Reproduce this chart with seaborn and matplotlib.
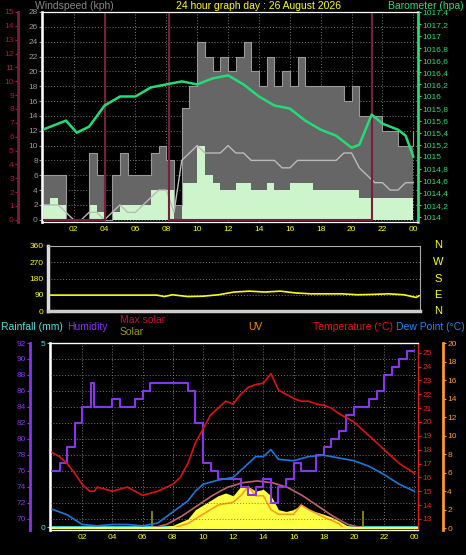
import numpy as np
import pandas as pd
import matplotlib
matplotlib.use("Agg")
import matplotlib.pyplot as plt
import seaborn as sns

sns.set_style("dark")
plt.rcParams['font.family'] = ['Liberation Sans', 'DejaVu Sans']

# ---------------- data ----------------
hours_half = [0, .5, 1, 1.5, 2, 2.5, 3, 3.5, 4, 4.5, 5, 5.5, 6, 6.5, 7, 7.5, 8, 8.5, 9, 9.5, 10, 10.5,
              11, 11.5, 12, 12.5, 13, 13.5, 14, 14.5, 15, 15.5, 16, 16.5, 17, 17.5, 18, 18.5, 19, 19.5,
              20, 20.5, 21, 21.5, 22, 22.5, 23, 23.5, 24]
gust = [6, 6, 6, 0, 0, 0, 9, 6, 0, 6, 9, 6, 6, 6, 9, 10, 8, 2, 15, 18, 24, 22, 20, 22, 20, 22, 24,
        20, 18, 22, 18, 20, 18, 22, 18, 18, 18, 18, 18, 16, 18, 14, 14, 14, 12, 12, 10, 10, 12]
wind_speed = [2, 3, 2, 0, 0, 0, 2, 1, 0, 1, 2, 2, 2, 2, 4, 4, 4, 0, 5, 5, 10, 6, 5, 4, 4, 5, 5, 4,
              4, 5, 4, 4, 5, 5, 5, 4, 4, 4, 4, 4, 4, 3, 3, 3, 3, 3, 3, 3, 4]
wind_avg = [2, 2, 2, 1, 0, 0, 1, 1, 0, 1, 2, 1, 1, 2, 3, 4, 4, 1, 8, 9, 10, 9, 9, 9, 10, 9, 9, 8,
            8, 8, 8, 7, 7, 8, 8, 8, 8, 8, 8, 9, 9, 7, 6, 5, 5, 4, 4, 5, 5]

baro_t = [0, 1, 1.5, 2.2, 3, 4, 5, 6, 7, 8, 9, 10, 11, 12, 13, 14, 15, 16, 17, 18, 19, 20, 20.5,
          21.3, 22, 23, 23.5, 24]
baro = [1015.45, 1015.55, 1015.6, 1015.4, 1015.5, 1015.85, 1016.0, 1016.0, 1016.15, 1016.2,
        1016.25, 1016.2, 1016.3, 1016.35, 1016.2, 1016.0, 1015.85, 1015.8, 1015.6, 1015.45,
        1015.35, 1015.15, 1015.2, 1015.7, 1015.55, 1015.45, 1015.35, 1015.0]

day_t = [0, 4, 8.15, 21.3, 24]
day_v = [0, 15, 0, 15, 15]

dir_t = [0, 7, 7.5, 8, 9, 10, 11, 12, 13, 14, 15, 16, 17, 18, 19, 20, 21, 22, 23, 23.8, 24]
dir_v = [88, 88, 80, 90, 80, 82, 90, 105, 110, 105, 110, 100, 95, 95, 95, 90, 92, 95, 90, 75, 85]

hum_t = [0, .5, 1, 1.5, 2, 2.6, 2.8, 4, 4.5, 5.5, 6, 6.5, 8.8, 9, 9.5, 10, 10.5, 11, 12.5, 13,
         13.5, 14, 14.5, 15, 15.5, 16, 16.5, 17, 17.5, 18, 18.5, 19, 19.5, 20, 21, 21.5, 22, 22.5,
         23, 23.5, 24]
hum = [76, 77, 79, 82, 84, 87, 84, 85, 84, 85, 86, 87, 87, 86, 82, 77, 76, 75, 74, 73, 74, 75,
       72, 74, 75, 77, 76, 76, 78, 79, 80, 81, 83, 84, 85, 86, 88, 89, 90, 91, 91]
temp_t = [0, .5, 1, 1.5, 2, 2.5, 2.8, 3, 4, 5, 6, 7, 8, 8.5, 9, 9.5, 10, 10.5, 11, 11.5, 12, 12.5,
          13, 13.5, 14, 14.5, 15, 15.5, 16, 16.5, 17, 17.5, 18, 18.5, 19, 20, 21, 22, 23, 24]
temp = [17.8, 17.5, 17, 16.3, 15.5, 15, 15, 15.3, 15, 15.3, 14.7, 15, 15.5, 16, 17, 18.5, 19.5,
        20.5, 21, 21.5, 21.3, 22, 22.5, 22.7, 22.8, 23.5, 22.3, 22, 21.7, 21.5, 21.5, 21.3, 21.2,
        21, 20.6, 20, 19, 18, 17, 16.3]
dew_t = [0, 1, 2, 3, 4, 5, 6, 7, 8, 9, 9.5, 10, 11, 12, 12.5, 13, 13.5, 14, 14.5, 15, 16, 17, 18,
         19, 20, 21, 22, 23, 24]
dew = [13.7, 13.3, 12.6, 12.5, 12.6, 12.6, 12.5, 12.7, 13.5, 14.3, 15, 15.5, 15.8, 16, 16.5, 17,
       17.5, 17.5, 18, 17.3, 17.2, 17.5, 17.6, 17.4, 17.2, 16.8, 16.2, 15.5, 15]
solar_t = [6.6, 7, 8, 9, 9.5, 10, 10.5, 11, 11.5, 12, 12.5, 13, 13.5, 14, 14.5, 15, 15.5, 16, 16.5,
           17, 18, 18.5, 19, 19.5, 20]
solar = [0, 0.1, 0.3, 1, 2, 2.5, 3, 3.5, 3.8, 3.5, 4.5, 4.5, 4, 4.2, 3.5, 2, 1.8, 2, 2.5, 2, 1.5,
         1.2, 0.8, 0.3, 0.1]
maxsol_t = [6.6, 7.6, 8.6, 9.6, 10.6, 11.6, 12.6, 13.6, 14.6, 15.6, 16.6, 17.6, 18.6, 19.6, 20.6]
maxsol = [0, 0.4, 1.3, 2.4, 3.5, 4.4, 4.9, 5.1, 4.9, 4.4, 3.5, 2.4, 1.3, 0.4, 0]
uv_t = [8, 9, 10, 11, 12, 12.5, 13, 13.5, 14, 14.5, 15, 16, 16.5, 17, 18, 19, 19.3]
uv = [0, 0.5, 1.5, 2.5, 2.8, 3.5, 4.5, 3.5, 3.5, 2, 1.5, 1.5, 2.5, 2, 1.2, 0.5, 0]

# ---------------- layout ----------------
W, H = 466, 555
fig = plt.figure(figsize=(W / 100, H / 100), dpi=100, facecolor='black')


def rect(l, t, r, b):
    return [l / W, 1 - b / H, (r - l) / W, (b - t) / H]


GRID = dict(color='#777777', linestyle=(0, (1, 2)), linewidth=0.7)
FS = 6
LFS = 7.5


def style(ax):
    ax.set_facecolor('black')
    for s in ax.spines.values():
        s.set_color('#aaaaaa')
    ax.tick_params(length=2, labelsize=FS, pad=1)


def outward(ax, side, px, color, lw=2):
    sp = ax.spines[side]
    sp.set_position(('outward', px * 0.72))
    sp.set_color(color)
    sp.set_linewidth(lw)


HOURS = ['02', '04', '06', '08', '10', '12', '14', '16', '18', '20', '22', '00']

# ---- top panel ----
ax = fig.add_axes(rect(42, 12, 418, 222))
style(ax)
ax.set_xlim(-0.05, 24.3)
ax.set_ylim(-0.3, 28)
df = pd.DataFrame({'t': hours_half, 'gust': gust, 'speed': wind_speed, 'avg': wind_avg})
ax.fill_between(df.t, 0, df.gust, step='post', color='#666666', lw=0)
sns.lineplot(data=df, x='t', y='gust', ax=ax, color='#999999', lw=0.8, drawstyle='steps-post')
ax.fill_between(df.t, 0, df.speed, step='post', color='#ccf5cc', lw=0)
sns.lineplot(data=df, x='t', y='avg', ax=ax, color='#bbbbbb', lw=1)
ax.set_yticks(range(0, 29, 2))
ax.tick_params(axis='y', colors='#999999')
ax.set_xticks(range(2, 25, 2))
ax.set_xticklabels(HOURS)
ax.set_xticks(np.arange(0, 24.3, 0.5), minor=True)
ax.tick_params(axis='x', which='both', colors='#aaaaaa', labelcolor='yellow')
ax.grid(True, **GRID)
ax.set_xlabel('')
ax.set_ylabel('')
ax.spines['left'].set_linewidth(2)
ax.spines['left'].set_color('#dddddd')

axd = ax.twinx()
axd.set_ylim(-0.16, 15)
sns.lineplot(x=day_t, y=day_v, ax=axd, color='#7a1f3a', lw=1.5, drawstyle='steps-post')
axd.yaxis.set_label_position('left')
axd.yaxis.tick_left()
outward(axd, 'left', 24, '#7a1f3a')
axd.spines['right'].set_visible(False)
axd.set_yticks(range(0, 16))
axd.tick_params(axis='y', colors='#c0103a', labelsize=FS, length=2, pad=1)

axb = ax.twinx()
axb.set_ylim(1013.92, 1017.4)
sns.lineplot(x=baro_t, y=baro, ax=axb, color='#22dd77', lw=1.8)
bt = np.round(np.arange(1014, 1017.41, 0.2), 1)
axb.set_yticks(bt)
axb.set_yticklabels([('%g' % v).replace('.', ',') for v in bt])
axb.tick_params(axis='y', colors='#22dd77', labelsize=FS, length=2, pad=1)
axb.spines['right'].set_color('#22dd77')
axb.spines['right'].set_linewidth(2)
for a in (axd, axb):
    a.set_ylabel('')

fig.text(35 / W, 1 - 6 / H, 'Windspeed (kph)', color='#888888', fontsize=LFS, ha='left', va='center')
fig.text(258 / W, 1 - 6 / H, '24 hour graph day : 26 August 2026', color='yellow', fontsize=LFS,
         ha='center', va='center')
fig.text(464 / W, 1 - 6 / H, 'Barometer (hpa)', color='#22dd77', fontsize=LFS, ha='right', va='center')

# ---- middle panel ----
axm = fig.add_axes(rect(48, 246, 420, 311))
style(axm)
axm.set_xlim(-0.05, 24.05)
axm.set_ylim(0, 360)
sns.lineplot(x=dir_t, y=dir_v, ax=axm, color='yellow', lw=1.2)
axm.set_yticks([0, 90, 180, 270, 360])
axm.tick_params(axis='y', colors='yellow')
axm.set_xticks([])
axm.grid(True, axis='y', **GRID)
axm.spines['left'].set_linewidth(2.5)
axm.spines['left'].set_color('#dddddd')
axm.spines['bottom'].set_linewidth(2.5)
axm.spines['bottom'].set_color('#cccccc')
for lab, yy in zip(['N', 'W', 'S', 'E', 'N'], [245, 262, 279, 295, 311]):
    fig.text(438 / W, 1 - yy / H, lab, color='yellow', fontsize=8, ha='center', va='center')

# ---- bottom panel ----
axr = fig.add_axes(rect(50, 343, 418, 530))
style(axr)
axr.set_xlim(-0.13, 24.24)
axr.set_ylim(-0.08, 5)
axr.set_yticks([0, 5])
axr.tick_params(axis='y', colors='#55dddd')
axr.axhline(0, color='#33dddd', lw=2)
axr.spines['left'].set_color('#dddddd')
axr.spines['left'].set_linewidth(2)
axr.set_xticks(range(2, 25, 2))
axr.set_xticklabels(HOURS)
axr.set_xticks(np.arange(0, 24.3, 0.5), minor=True)
axr.tick_params(axis='x', which='both', colors='#aaaaaa', labelcolor='yellow')

axu = axr.twinx()
axu.set_ylim(-0.2, 20)
axu.fill_between(solar_t, 0, solar, color='#ffff44', lw=0)
sns.lineplot(x=maxsol_t, y=maxsol, ax=axu, color='#c06070', lw=1.2)
sns.lineplot(x=uv_t, y=uv, ax=axu, color='#ff9922', lw=1.2)
axu.vlines([6.6, 20.6], 0, 1.8, color='#999900', lw=1.2)
axu.axhline(0, color='#ffff44', lw=1.5)
outward(axu, 'right', 25, '#ff9922')
axu.set_yticks(range(0, 21, 2))
axu.tick_params(axis='y', colors='#ff9922', labelsize=FS, length=2, pad=1)

axh = axr.twinx()
axh.set_ylim(68.6, 92)
sns.lineplot(x=hum_t, y=hum, ax=axh, color='#8833ee', lw=1.5, drawstyle='steps-post')
axh.yaxis.set_label_position('left')
axh.yaxis.tick_left()
outward(axh, 'left', 20, '#8833ee')
axh.spines['right'].set_visible(False)
axh.set_yticks(range(70, 93, 2))
axh.tick_params(axis='y', colors='#8833ee', labelsize=FS, length=2, pad=1)
axh.grid(True, **GRID)

axt = axr.twinx()
axt.set_ylim(12.2, 25.7)
sns.lineplot(x=temp_t, y=temp, ax=axt, color='#dd1111', lw=1.2)
sns.lineplot(x=dew_t, y=dew, ax=axt, color='#1a77dd', lw=1.2)
axt.set_yticks(range(13, 26))
axt.tick_params(axis='y', colors='#ee2222', labelsize=FS, length=2, pad=1)
axt.spines['right'].set_color('#dd2222')
for a in (axu, axh, axt):
    a.set_ylabel('')
axr.grid(True, axis='x', **GRID)

fig.text(1 / W, 1 - 327 / H, 'Rainfall (mm)', color='#55dddd', fontsize=LFS, va='center')
fig.text(67 / W, 1 - 327 / H, 'Humidity', color='#8833ee', fontsize=LFS, va='center')
fig.text(120 / W, 1 - 320 / H, 'Max solar', color='#c0103a', fontsize=LFS, va='center')
fig.text(120 / W, 1 - 332 / H, 'Solar', color='#999900', fontsize=LFS, va='center')
fig.text(248 / W, 1 - 327 / H, 'UV', color='#ff8800', fontsize=LFS, va='center')
fig.text(313 / W, 1 - 327 / H, 'Temperature (°C)', color='#ee1111', fontsize=LFS, va='center')
fig.text(465 / W, 1 - 327 / H, 'Dew Point (°C)', color='#1a88ee', fontsize=LFS, va='center', ha='right')

fig.savefig('out.png', dpi=100, facecolor='black')
